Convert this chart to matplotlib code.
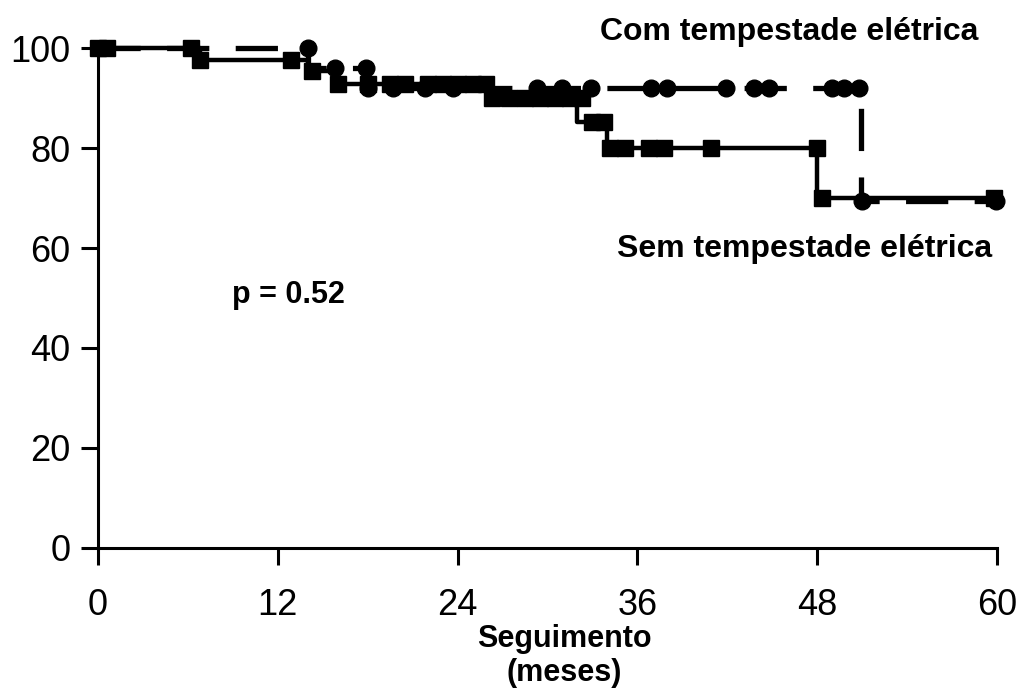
import numpy as np
import matplotlib.pyplot as plt

plt.rcParams['font.family'] = ['Liberation Sans', 'DejaVu Sans']

# Sem tempestade elétrica (solid line, squares)
sem_t = [0, 6.8, 14.0, 15.8, 26.0, 32.0, 34.0, 48.0, 60.0]
sem_s = [100, 97.7, 95.4, 92.8, 90.0, 85.3, 80.0, 70.0, 70.0]
sem_mark_t = [0, 0.6, 6.2, 6.8, 12.9, 14.3, 16.0, 18.0, 19.5, 20.5, 22.0, 23.0, 24.0, 25.0, 25.9,
              26.3, 27.4, 28.5, 29.5, 30.5, 31.5, 32.3, 33.0, 33.8, 34.2, 35.2, 36.8, 37.8, 40.9,
              48.0, 48.3, 59.8]
sem_mark_s = [100, 100, 100, 97.7, 97.7, 95.4, 92.8, 92.8, 92.8, 92.8, 92.8, 92.8, 92.8, 92.8, 92.8,
              90.0, 90.0, 90.0, 90.0, 90.0, 90.0, 90.0, 85.3, 85.3, 80.0, 80.0, 80.0, 80.0, 80.0,
              80.0, 70.0, 70.0]

# Com tempestade elétrica (dashed line, circles)
com_t = [0, 14.0, 17.9, 50.9, 60.0]
com_s = [100, 96.0, 92.0, 69.5, 69.5]
com_mark_t = [14.0, 15.8, 17.9, 18.0, 19.7, 21.8, 23.7, 29.3, 31.0, 32.9, 36.9, 38.0, 41.9,
              43.8, 44.8, 49.0, 49.8, 50.8, 51.0, 59.9]
com_mark_s = [100, 96.0, 96.0, 92.0, 92.0, 92.0, 92.0, 92.0, 92.0, 92.0, 92.0, 92.0, 92.0,
              92.0, 92.0, 92.0, 92.0, 92.0, 69.5, 69.5]

xticks = [0, 12, 24, 36, 48, 60]
yticks = [0, 20, 40, 60, 80, 100]

fig = plt.figure(figsize=(10.21, 6.94), dpi=100)
ax = fig.add_axes([0.096, 0.2104, 0.8805, 0.7204])

ax.plot(sem_t, sem_s, drawstyle='steps-post', color='black', lw=3.2, clip_on=False, zorder=3)
ax.plot(sem_mark_t, sem_mark_s, ls='none', marker='s', ms=12, color='black', clip_on=False, zorder=3)
ax.plot(com_t, com_s, drawstyle='steps-post', color='black', lw=3.8, ls=(0, (8, 5)),
        clip_on=False, zorder=4)
ax.plot(com_mark_t, com_mark_s, ls='none', marker='o', ms=12, color='black', clip_on=False, zorder=4)

ax.set_xlim(0, 60)
ax.set_ylim(0, 100)
ax.set_xticks(xticks)
ax.set_yticks(yticks)
ax.tick_params(axis='both', direction='out', length=12, width=2.2, labelsize=26, color='black')
ax.tick_params(axis='x', pad=17)
ax.tick_params(axis='y', pad=8)
for side in ['top', 'right']:
    ax.spines[side].set_visible(False)
for side in ['left', 'bottom']:
    ax.spines[side].set_linewidth(2.2)

fig.text(0.553, 0.055, 'Seguimento\n(meses)', ha='center', va='center', fontsize=22,
         fontweight='bold', linespacing=1.2)
fig.text(0.958, 0.954, 'Com tempestade elétrica', ha='right', va='center', fontsize=23,
         fontweight='bold')
fig.text(0.972, 0.641, 'Sem tempestade elétrica', ha='right', va='center', fontsize=23,
         fontweight='bold')
fig.text(0.227, 0.575, 'p = 0.52', ha='left', va='center', fontsize=22, fontweight='bold')

fig.savefig('out.png', dpi=100, facecolor='white')
